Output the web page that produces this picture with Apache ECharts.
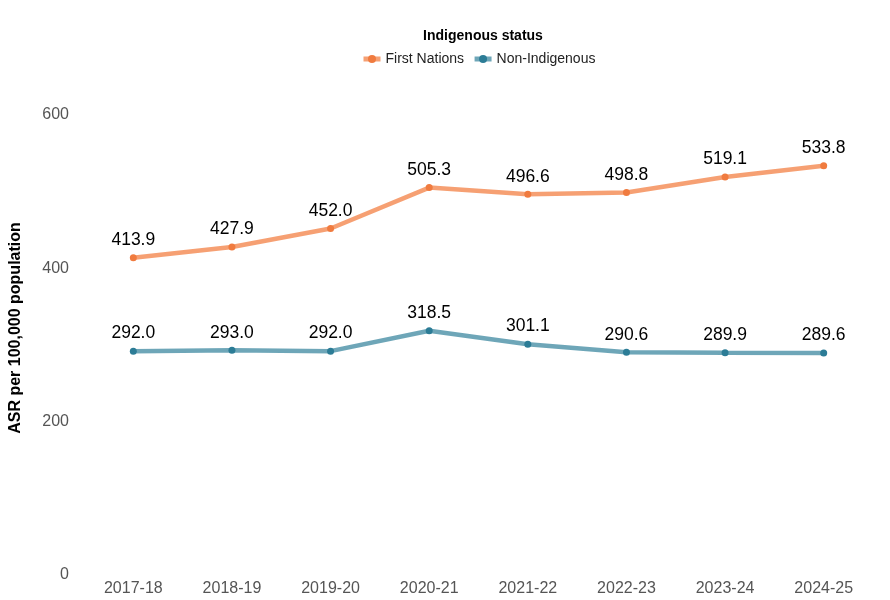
<!DOCTYPE html>
<html>
<head>
<meta charset="utf-8">
<script src="https://cdn.jsdelivr.net/npm/echarts@6/dist/echarts.min.js"></script>
<style>
  html, body { margin: 0; padding: 0; background: #fff; }
  #chart { width: 890px; height: 600px; }
</style>
</head>
<body>
<div id="chart"></div>
<script>
// financial years along the x axis
const years = ['2017-18', '2018-19', '2019-20', '2020-21', '2021-22', '2022-23', '2023-24', '2024-25'];
// age-standardised rate per 100,000
const firstNations = [413.9, 427.9, 452.0, 505.3, 496.6, 498.8, 519.1, 533.8];
const nonIndigenous = [292.0, 293.0, 292.0, 318.5, 301.1, 290.6, 289.9, 289.6];

const FONT = 'Arial, Liberation Sans, sans-serif';
const chart = echarts.init(document.getElementById('chart'));

function makeSeries(name, data, lineColor, dotColor) {
  return {
    name: name,
    type: 'line',
    data: data,
    symbol: 'circle',
    symbolSize: 7,
    lineStyle: { color: lineColor, width: 4.5 },
    itemStyle: { color: dotColor },
    label: {
      show: true,
      position: 'top',
      distance: 5,
      color: '#000',
      fontSize: 17.5,
      fontFamily: FONT,
      formatter: p => p.value.toFixed(1)
    },
    emphasis: { disabled: true },
    animation: false
  };
}

const option = {
  backgroundColor: '#fff',
  title: {
    text: 'Indigenous status',
    left: 478,
    top: 24,
    textAlign: 'center',
    textStyle: { fontSize: 14, fontWeight: 'bold', color: '#000', fontFamily: FONT }
  },
  legend: {
    top: 47,
    left: 356,
    itemWidth: 17,
    itemHeight: 10,
    itemGap: 8,
    textStyle: { fontSize: 14, color: '#222', fontFamily: FONT },
    data: [
      { name: 'First Nations', itemStyle: { color: '#f07b3f' }, lineStyle: { color: 'rgba(245,150,100,0.9)', width: 5 } },
      { name: 'Non-Indigenous', itemStyle: { color: '#2c7c96' }, lineStyle: { color: 'rgba(85,150,172,0.85)', width: 5 } }
    ]
  },
  grid: { left: 82, right: 17, top: 115, bottom: 25 },
  xAxis: {
    type: 'category',
    data: years,
    boundaryGap: true,
    axisLine: { show: false },
    axisTick: { show: false },
    splitLine: { show: false },
    axisLabel: { color: '#555', fontSize: 16, margin: 6, fontFamily: FONT }
  },
  yAxis: {
    type: 'value',
    min: 0,
    max: 600,
    interval: 200,
    name: 'ASR per 100,000 population',
    nameLocation: 'middle',
    nameGap: 60,
    nameTextStyle: { fontSize: 16, fontWeight: 'bold', color: '#000', fontFamily: FONT, padding: [0, 0, 0, 34] },
    axisLine: { show: false },
    axisTick: { show: false },
    splitLine: { show: false },
    axisLabel: { color: '#555', fontSize: 16, margin: 15, fontFamily: FONT }
  },
  series: [
    makeSeries('First Nations', firstNations, 'rgba(245,150,100,0.9)', '#f07b3f'),
    makeSeries('Non-Indigenous', nonIndigenous, 'rgba(85,150,172,0.85)', '#2c7c96')
  ]
};

chart.setOption(option);
</script>
</body>
</html>
